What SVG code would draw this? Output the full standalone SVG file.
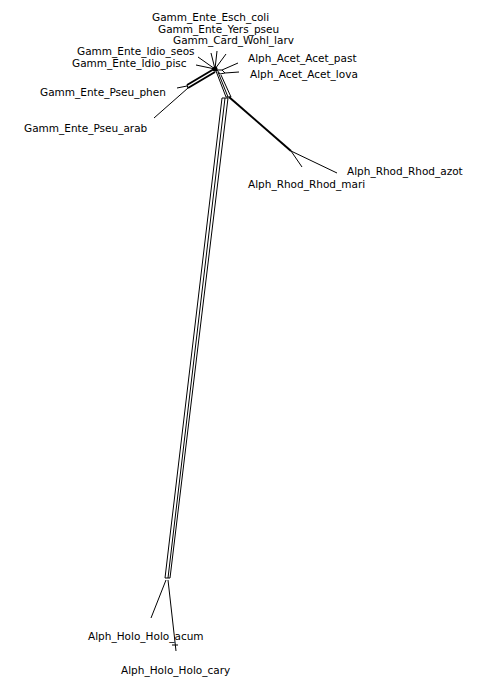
<svg xmlns="http://www.w3.org/2000/svg" width="486" height="700" viewBox="0 0 486 700">
<style>
.e{stroke:#000;stroke-width:1;fill:none}
.t{stroke:#000;stroke-width:2;fill:none}
text{font-family:"DejaVu Sans",sans-serif;font-size:10.5px;fill:#000}
</style>
<rect width="486" height="700" fill="#fff"/>
<g id="edges">
<!-- hub leaves -->
<line class="e" x1="215" y1="69" x2="211" y2="53"/>
<line class="e" x1="215" y1="69" x2="217" y2="51"/>
<line class="e" x1="215" y1="69" x2="226" y2="54"/>
<line class="e" x1="215" y1="69" x2="198" y2="57"/>
<line class="e" x1="215" y1="69" x2="196" y2="65"/>
<circle cx="215" cy="69" r="2.5" fill="#000"/>
<!-- Acet -->
<path class="e" d="M217,70 L222,70 L225,73 L220,74 Z"/>
<line class="e" x1="222" y1="70" x2="238" y2="63"/>
<line class="e" x1="225" y1="73" x2="239" y2="72"/>
<!-- Pseu band -->
<line class="t" x1="214" y1="69" x2="187" y2="85"/>
<line class="t" x1="215" y1="72" x2="188" y2="88"/>
<line class="e" x1="187" y1="85" x2="188" y2="88"/>
<line class="e" x1="187" y1="86" x2="177" y2="88"/>
<line class="e" x1="188" y1="88" x2="154" y2="118"/>
<!-- down band to Rhod/Holo junction -->
<line class="e" x1="216" y1="71" x2="226" y2="97"/>
<line class="e" x1="218" y1="72" x2="228" y2="97"/>
<line class="e" x1="221" y1="75" x2="231" y2="97"/>
<line class="e" x1="226" y1="97" x2="231" y2="97"/>
<!-- Rhod -->
<line class="t" x1="229" y1="97" x2="291" y2="151"/>
<line class="e" x1="291" y1="151" x2="337" y2="173"/>
<line class="e" x1="291" y1="151" x2="302" y2="167"/>
<!-- long Holo band -->
<line class="e" x1="222" y1="98" x2="165" y2="578"/>
<line class="e" x1="225" y1="98" x2="168" y2="578"/>
<line class="e" x1="228" y1="98" x2="170" y2="578"/>
<line class="e" x1="222" y1="98" x2="228" y2="98"/>
<line class="e" x1="165" y1="578" x2="170" y2="578"/>
<!-- Holo leaves -->
<line class="e" x1="166" y1="580" x2="151" y2="618"/>
<line class="e" x1="168" y1="580" x2="176" y2="651"/>
<line class="e" x1="172" y1="645" x2="178" y2="645"/>
</g>
<g id="n1"><text x="152" y="21">Gamm_Ente_Esch_coli</text></g>
<g id="n2"><text x="158" y="33">Gamm_Ente_Yers_pseu</text></g>
<g id="n3"><text x="173" y="44">Gamm_Card_Wohl_larv</text></g>
<g id="n4"><text x="77" y="55">Gamm_Ente_Idio_seos</text></g>
<g id="n5"><text x="72" y="67">Gamm_Ente_Idio_pisc</text></g>
<g id="n6"><text x="248" y="62">Alph_Acet_Acet_past</text></g>
<g id="n7"><text x="250" y="78">Alph_Acet_Acet_lova</text></g>
<g id="n8"><text x="40" y="96">Gamm_Ente_Pseu_phen</text></g>
<g id="n9"><text x="24" y="132">Gamm_Ente_Pseu_arab</text></g>
<g id="n10"><text x="347" y="175">Alph_Rhod_Rhod_azot</text></g>
<g id="n11"><text x="248" y="188">Alph_Rhod_Rhod_mari</text></g>
<g id="n12"><text x="88" y="640">Alph_Holo_Holo_acum</text></g>
<g id="n13"><text x="121" y="674">Alph_Holo_Holo_cary</text></g>
</svg>
